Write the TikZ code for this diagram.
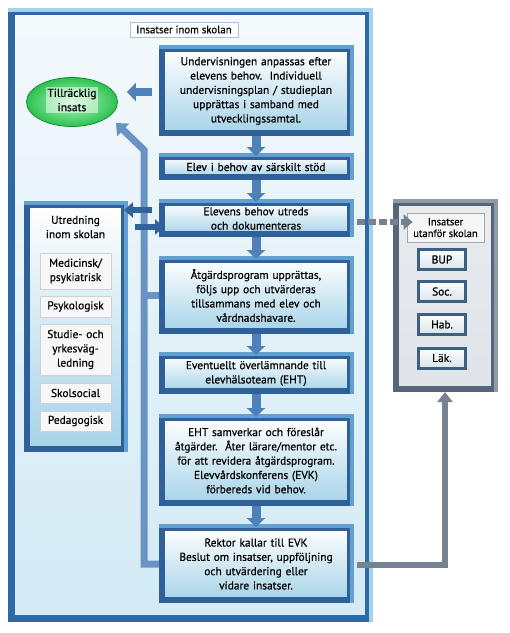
\documentclass[tikz,border=0pt]{standalone}
\usepackage{fontspec}
\setmainfont{PT Sans}[FakeBold=0.6]
\usetikzlibrary{arrows.meta,shapes.geometric,shadows,calc}
\definecolor{bordlt}{HTML}{62A0D0}
\definecolor{bordk}{HTML}{2F6099}
\definecolor{boxlo}{HTML}{A6D3E8}
\definecolor{framein}{HTML}{E3F1F8}
\definecolor{framelo}{HTML}{D3EAF5}
\definecolor{framelt}{HTML}{A3D4EA}
\definecolor{framedk}{HTML}{2E69A6}
\definecolor{arrblue}{HTML}{4F80B7}
\definecolor{arrdark}{HTML}{32629A}
\definecolor{greylt}{HTML}{8E9CAA}
\definecolor{greydk}{HTML}{55667A}
\definecolor{greyc}{HTML}{74838F}
\definecolor{greyin}{HTML}{DFE4E9}
\definecolor{ubord}{HTML}{3F5F80}
\definecolor{ellin}{HTML}{B4F7BE}
\definecolor{ellout}{HTML}{2CC250}
\definecolor{ellrim}{HTML}{1C8A36}
\pgfdeclarelayer{bg}
\pgfdeclarelayer{mid}
\pgfdeclarelayer{front}
\pgfsetlayers{bg,mid,main,front}
\begin{document}
\begin{tikzpicture}[x=1pt,y=-1pt,
  font=\fontsize{11.4}{14.3}\selectfont,
  bevel/.style={line cap=butt, line join=miter},
  sbox/.style={drop shadow={shadow xshift=2pt, shadow yshift=-2pt, opacity=0.3},
    draw=bordk, line width=6pt, top color=white, bottom color=boxlo,
    minimum width=188pt, text width=184pt, align=center, inner sep=0pt},
  subbox/.style={draw=black!18, line width=1pt, fill=white!94!gray,
    minimum width=71pt, text width=70pt, align=center, inner sep=0pt},
  ubox/.style={draw=ubord, line width=3pt, top color=white, bottom color=boxlo!70!gray!40,
    minimum width=47pt, minimum height=20pt, inner sep=0pt,
    drop shadow={shadow xshift=1.5pt, shadow yshift=-1.5pt, opacity=0.3}},
  barrow/.style={draw=arrblue, line width=8pt, -{Triangle[width=18pt,length=9pt]}},
  darrow/.style={draw=arrdark, line width=6pt, -{Triangle[width=15pt,length=9pt]}},
  lconn/.style={draw=arrblue!85!white, line width=7pt, line join=miter},
  gconn/.style={draw=greyc, line width=6pt, line join=miter},
]
\useasboundingbox (0,0) rectangle (510,633);

\begin{pgfonlayer}{bg}
\node[drop shadow={shadow xshift=2pt, shadow yshift=-2pt, opacity=0.25},
  draw=framedk, line width=7pt, top color=white!60!framein, bottom color=framelo,
  minimum width=357pt, minimum height=607pt, inner sep=0pt] (fr) at (190,315) {};
\draw[bevel, draw=framelt, line width=4pt] ($(fr.north west)+(0,1.5)$) -- ($(fr.north east)+(-1.5,1.5)$) -- ($(fr.south east)+(-1.5,0)$);
\end{pgfonlayer}

% title
\node[draw=bordlt!60, line width=0.8pt, fill=white, minimum width=108pt, minimum height=15pt,
  inner sep=0pt, font=\fontsize{10.8}{12}\selectfont] (tt) at (184,29.5) {Insatser inom skolan};

% ellipse
\node[ellipse, draw=ellrim, line width=0.8pt, shading=radial,
  inner color=ellin, outer color=ellout,
  minimum width=91pt, minimum height=49pt] (ell) at (72,102) {};
\node[fill=white, fill opacity=0.5, text opacity=1, align=center, inner sep=1.5pt,
  font=\fontsize{11.5}{14.3}\selectfont] (ellt) at (72,100) {Tillräcklig\\insats};

% left panel
\node[sbox, minimum width=97pt, minimum height=244pt, text width=90pt] (lp) at (75.5,327) {};
\draw[bevel, draw=bordlt, line width=4pt] ($(lp.north west)+(0,1)$) -- ($(lp.north east)+(-1,1)$) -- ($(lp.south east)+(-1,0)$);
\node[align=center, inner sep=0pt] (lpt) at (75.5,227) {Utredning\\inom skolan};
\node[subbox, minimum height=36pt] (s1) at (75.5,271) {Medicinsk/\\psykiatrisk};
\node[subbox, minimum height=21pt] (s2) at (75.5,306.5) {Psykologisk};
\node[subbox, minimum height=51pt] (s3) at (75.5,349.5) {Studie- och\\yrkesväg-\\ledning};
\node[subbox, minimum height=20pt] (s4) at (75.5,393) {Skolsocial};
\node[subbox, minimum height=20pt] (s5) at (75.5,421) {Pedagogisk};

% right panel
\node[drop shadow={shadow xshift=2pt, shadow yshift=-2pt, opacity=0.3},
  draw=greydk, line width=6pt, top color=greyin!70!white, bottom color=greyin,
  minimum width=98pt, minimum height=186pt, inner sep=0pt] (rp) at (445,296) {};
\draw[bevel, draw=greylt, line width=4pt] ($(rp.north west)+(0,1)$) -- ($(rp.north east)+(-1,1)$) -- ($(rp.south east)+(-1,0)$);
\node[draw=black!35, line width=0.8pt, fill=white!93!gray, minimum width=77pt, minimum height=29pt,
  align=center, inner sep=0pt, font=\fontsize{10.5}{11.7}\selectfont] (rt) at (445.5,227.5) {Insatser\\utanför skolan};
\node[ubox] (u1) at (442,259.5) {BUP};
\node[ubox] (u2) at (442,291.5) {Soc.};
\node[ubox] (u3) at (442,324.5) {Hab.};
\node[ubox] (u4) at (442,358) {Läk.};

% main boxes
\node[sbox, minimum height=84pt] (b1) at (256,91) {Undervisningen anpassas efter\\elevens behov.\ \ Individuell\\undervisningsplan / studieplan\\upprättas i samband med\\utvecklingssamtal.};
\node[sbox, minimum height=20pt] (b2) at (256,167) {Elev i behov av särskilt stöd};
\node[sbox, minimum height=31pt] (b3) at (256,218.5) {Elevens behov utreds\\och dokumenteras};
\node[sbox, minimum height=71pt] (b4) at (256,295.5) {Åtgärdsprogram upprättas,\\följs upp och utvärderas\\tillsammans med elev och\\vårdnadshavare.};
\node[sbox, minimum height=35pt] (b5) at (256,373.5) {Eventuellt överlämnande till\\elevhälsoteam (EHT)};
\node[sbox, minimum height=85pt] (b6) at (256,460.5) {EHT samverkar och föreslår\\åtgärder.\ \ Åter lärare/mentor etc.\\för att revidera åtgärdsprogram.\\Elevvårdskonferens (EVK)\\förbereds vid behov.};
\node[sbox, minimum height=72pt] (b7) at (256,564) {Rektor kallar till EVK\\Beslut om insatser, uppföljning\\och utvärdering eller\\vidare insatser.};
\foreach \n in {b1,b2,b3,b4,b5,b6,b7}
  \draw[bevel, draw=bordlt, line width=4pt] ($(\n.north west)+(0,1)$) -- ($(\n.north east)+(-1,1)$) -- ($(\n.south east)+(-1,0)$);

% connector coordinates
\coordinate (lbot) at (144,564);
\coordinate (ltop) at (144,150);
\coordinate (tipL) at (116,123);

\begin{pgfonlayer}{mid}
\draw[lconn, -{Triangle[width=17pt,length=10pt]}] (b7.west) -- (lbot) -- (ltop) -- (tipL);
\draw[lconn] (b4.west) -- (b4.west -| lbot);
\end{pgfonlayer}

\begin{pgfonlayer}{front}
\draw[gconn, -{Triangle[width=15pt,length=10pt]}] ($(b7.east)+(4,1)$) -- ($(b7.east -| rp.south)+(0,1)$) -- (rp.south);
\draw[draw=greyc, line width=6pt, dash pattern=on 8pt off 3pt, -{Triangle[width=15pt,length=9pt]}]
  ($(b3.east)+(4,3.5)$) -- ($(rt.west |- b3.east)+(6,3.5)$);
\draw[barrow] ($(b1.west)+(-7,1)$) -- ($(ell.east |- b1.west)+(9,1)$);
\foreach \a/\b in {b1/b2,b2/b3,b3/b4,b4/b5,b5/b6,b6/b7}
  \draw[barrow, line width=9pt] (\a.south) -- ($(\b.north)+(0,2)$);
\draw[darrow] ($(b3.west)+(-7,-8.5)$) -- ($(lp.east |- b3.west)+(-3,-8.5)$);
\draw[darrow] ($(lp.east |- b3.west)+(8,8.5)$) -- ($(b3.west)+(5,8.5)$);
\end{pgfonlayer}
\end{tikzpicture}
\end{document}
